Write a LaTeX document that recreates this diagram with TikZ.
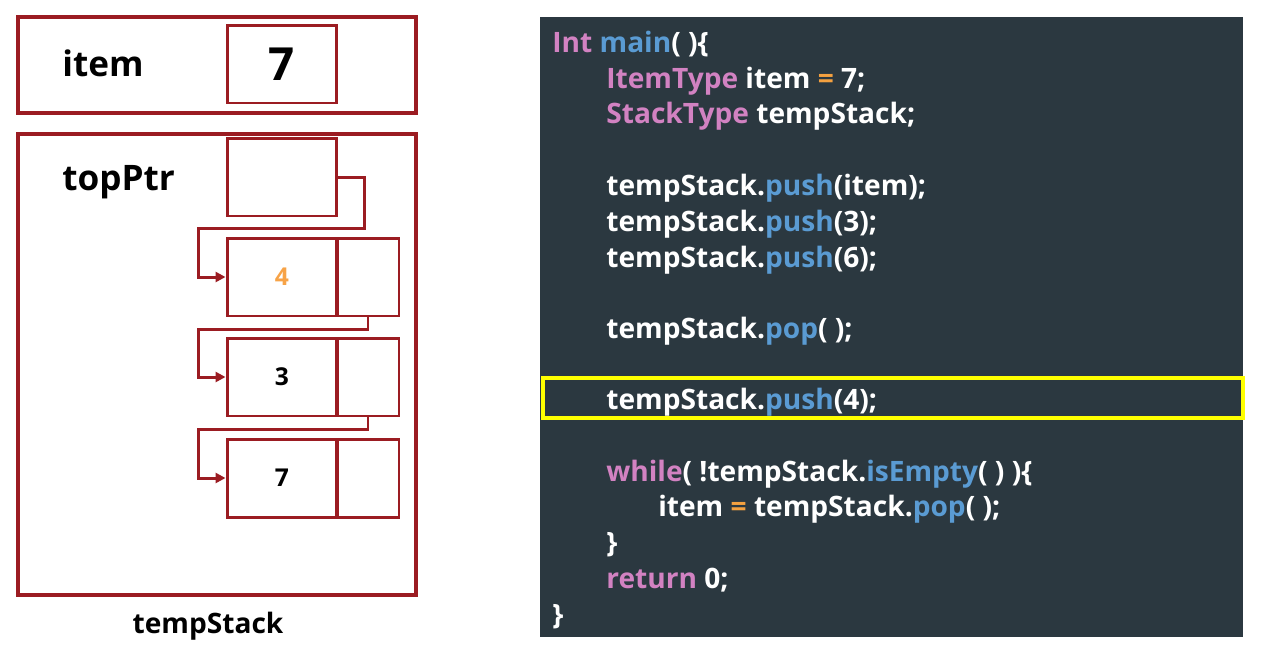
\documentclass[tikz,border=0pt]{standalone}
\usepackage{fontspec}
\setmainfont{Open Sans}
\usetikzlibrary{arrows.meta,positioning,calc}
\definecolor{BoxRed}{HTML}{9B1C22}
\definecolor{CodePanel}{HTML}{2B3840}
\definecolor{KeyPink}{HTML}{D282C2}
\definecolor{CallBlue}{HTML}{5A9BD3}
\definecolor{OpOrange}{HTML}{F4A140}
\definecolor{NewOrange}{HTML}{F7A347}
\definecolor{MarkYellow}{HTML}{FFFF00}
\newcommand{\Kw}[1]{\textcolor{KeyPink}{#1}}
\newcommand{\Fn}[1]{\textcolor{CallBlue}{#1}}
\newcommand{\Op}[1]{\textcolor{OpOrange}{#1}}
\tikzset{
  figure/.style={x=0.02cm,y=-0.02cm},
  frame/.style={draw=BoxRed,line width=2.2pt,inner sep=0pt},
  cell/.style={draw=BoxRed,line width=1.7pt,minimum width=2.2cm,minimum height=1.56cm,
    inner sep=0pt,font=\bfseries\fontsize{14}{16}\selectfont},
  linkcell/.style={cell,minimum width=1.24cm},
  link/.style={draw=BoxRed,line width=1.7pt,-{Triangle[length=2mm,width=2mm]}},
  varname/.style={anchor=base west,inner sep=0pt,font=\bfseries\fontsize{20}{24}\selectfont},
  codeline/.style={anchor=base west,inner sep=0pt,text=white,font=\bfseries\fontsize{16}{19}\selectfont},
}

\begin{document}
\begin{tikzpicture}[figure]
  \useasboundingbox (0,0) rectangle (1261,654);

  % variable item
  \node[frame,minimum width=7.96cm,minimum height=1.92cm] (itembox) at (217,65) {};
  \node[varname] (itemname) at (62,76) {item};
  \node[cell,font=\bfseries\fontsize{26}{30}\selectfont] (itemval) at (282,64) {7};

  % the stack object
  \node[frame,minimum width=7.96cm,minimum height=9.22cm] (stackbox) at (217,364.5) {};
  \node[varname] (topname) at (62,190) {topPtr};
  \node[cell] (top) at (282,177) {};
  \node[font=\bfseries\fontsize{16}{19}\selectfont] (stackname) at (208,626) {tempStack};

  \node[cell,text=NewOrange] (n4d) at (282,277) {4};
  \node[linkcell] (n4l) at (368,277) {};
  \node[cell] (n3d) at (282,377) {3};
  \node[linkcell] (n3l) at (368,377) {};
  \node[cell] (n7d) at (282,478) {7};
  \node[linkcell] (n7l) at (368,478) {};

  \draw[link] (top.east) -- ++(26,0) -- ++(0,51) -| ($(n4d.west)+(-27,0)$) -- (n4d.west);
  \draw[link] (n4l.south) -- ++(0,12) -| ($(n3d.west)+(-27,0)$) -- (n3d.west);
  \draw[link] (n3l.south) -- ++(0,12) -| ($(n7d.west)+(-27,0)$) -- (n7d.west);

  % code
  \fill[CodePanel] (540,17) rectangle (1243,637);
  \node[codeline] (mainline) at (552,52) {\Kw{Int} \Fn{main}( )\{};
  \node[codeline] (itemdecl) at (606,88) {\Kw{ItemType} item \Op{=} 7;};
  \node[codeline] (stackdecl) at (606,123) {\Kw{StackType} tempStack;};
  \node[codeline] (pushitem) at (606,195) {tempStack.\Fn{push}(item);};
  \node[codeline] (pushthree) at (606,231) {tempStack.\Fn{push}(3);};
  \node[codeline] (pushsix) at (606,267) {tempStack.\Fn{push}(6);};
  \node[codeline] (popfirst) at (606,338) {tempStack.\Fn{pop}( );};
  \node[codeline] (pushfour) at (606,409) {tempStack.\Fn{push}(4);};
  \node[codeline] (whileline) at (606,481) {\Kw{while}( !tempStack.\Fn{isEmpty}( ) )\{};
  \node[codeline] (popline) at (658,516) {item \Op{=} tempStack.\Fn{pop}( );};
  \node[codeline] (closewhile) at (606,552) {\}};
  \node[codeline] (returnline) at (606,588) {\Kw{return} 0;};
  \node[codeline] (closemain) at (552,624) {\}};
  \draw[MarkYellow,line width=2.2pt] (543,378) rectangle (1243,418);
\end{tikzpicture}
\end{document}
